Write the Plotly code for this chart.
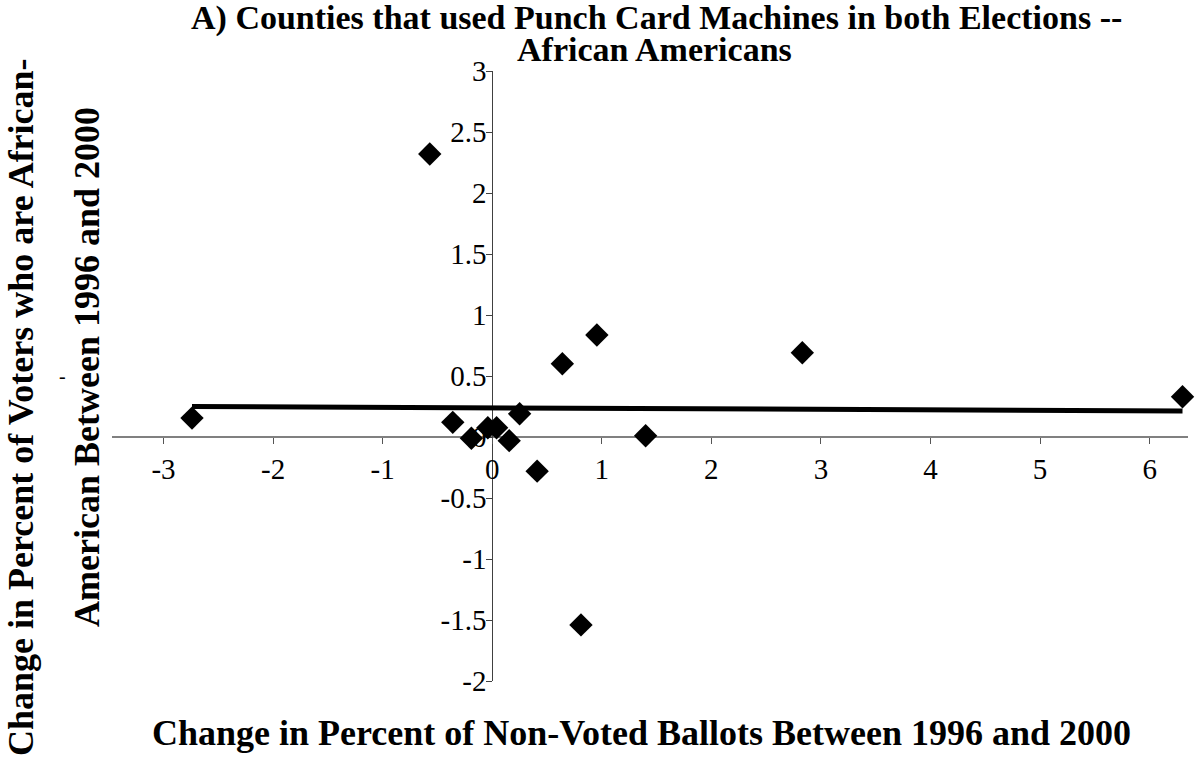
import numpy as np
import plotly.graph_objects as go

# Data
x_change_nonvoted = [-2.74, -0.57, 0.81, 0.64, 0.955, 2.83, 6.30,
                     -0.36, -0.19, -0.04, 0.04, 0.155, 0.25, 0.41, 1.40]
y_change_african_american = [0.155, 2.32, -1.54, 0.60, 0.836, 0.69, 0.33,
                             0.12, -0.01, 0.076, 0.076, -0.03, 0.19, -0.28, 0.01]

x_ticks = [-3, -2, -1, 0, 1, 2, 3, 4, 5, 6]
y_ticks = [-2, -1.5, -1, -0.5, 0, 0.5, 1, 1.5, 2, 2.5, 3]
x_range = [-3.47, 6.35]
y_range = [-2, 3]

title_line1 = "A) Counties that used Punch Card Machines in both Elections --"
title_line2 = "African Americans"
x_title = "Change in Percent of Non-Voted Ballots Between 1996 and 2000"
y_title_line1 = "Change in Percent of Voters who are African-"
y_title_line2 = "American Between 1996 and 2000"

# Linear trend line (least squares), like the spreadsheet trendline
xa = np.array(x_change_nonvoted)
ya = np.array(y_change_african_american)
slope, intercept = np.polyfit(xa, ya, 1)
trend_x = [xa.min(), xa.max()]
trend_y = [slope * v + intercept for v in trend_x]

FONT = "Liberation Serif, Times New Roman, serif"
W, H = 1200, 759
L, R, T, B = 112, 12, 71, 78
pw, ph = W - L - R, H - T - B


def px(xp):
    return (xp - L) / pw


def py(yp):
    return (H - B - yp) / ph


fig = go.Figure()
fig.add_trace(go.Scatter(
    x=trend_x, y=trend_y, mode="lines",
    line=dict(color="black", width=5),
    hoverinfo="skip", showlegend=False, cliponaxis=False))
fig.add_trace(go.Scatter(
    x=x_change_nonvoted, y=y_change_african_american, mode="markers",
    marker=dict(symbol="diamond", size=18, color="black",
                line=dict(color="black", width=0)),
    showlegend=False, cliponaxis=False))

x_zero_pos = (0 - x_range[0]) / (x_range[1] - x_range[0])
y_zero_pos = (0 - y_range[0]) / (y_range[1] - y_range[0])

TICK_SIZE = 29
fig.update_layout(
    width=W, height=H,
    margin=dict(l=L, r=R, t=T, b=B),
    paper_bgcolor="white", plot_bgcolor="white",
    font=dict(family=FONT, color="black"),
    xaxis=dict(range=x_range, tickmode="array", tickvals=x_ticks,
               ticktext=[str(v) for v in x_ticks],
               showgrid=False, zeroline=False,
               showline=True, linecolor="#808080", linewidth=2,
               ticks="outside", ticklen=6, tickcolor="#555555", tickwidth=1,
               tickfont=dict(family=FONT, size=TICK_SIZE, color="black"),
               anchor="free", position=y_zero_pos, layer="below traces",
               fixedrange=True),
    yaxis=dict(range=y_range, tickmode="array", tickvals=y_ticks,
               ticktext=[("%g" % v) for v in y_ticks],
               showgrid=False, zeroline=False,
               showline=True, linecolor="#404040", linewidth=1,
               ticks="outside", ticklen=6, tickcolor="#404040", tickwidth=1,
               ticklabelstandoff=-6,
               tickfont=dict(family=FONT, size=TICK_SIZE, color="black"),
               anchor="free", position=x_zero_pos, layer="below traces",
               fixedrange=True),
)

TS = 34
AS = 36
ann = [
    dict(text="<b>%s</b>" % title_line1, x=px(656), y=py(18), size=TS, angle=0),
    dict(text="<b>%s</b>" % title_line2, x=px(654), y=py(49), size=TS, angle=0),
    dict(text="<b>%s</b>" % x_title, x=px(641), y=py(733), size=AS, angle=0),
    dict(text="<b>%s</b>" % y_title_line1, x=px(21), y=py(407), size=AS, angle=-90),
    dict(text="<b>%s</b>" % y_title_line2, x=px(87), y=py(367), size=AS, angle=-90),
    dict(text="-", x=px(62), y=py(376), size=20, angle=0),
]
for a in ann:
    fig.add_annotation(text=a["text"], x=a["x"], y=a["y"], xref="paper", yref="paper",
                       xanchor="center", yanchor="middle", showarrow=False,
                       textangle=a["angle"],
                       font=dict(family=FONT, size=a["size"], color="black"))

fig.write_html("out.html", config={"displayModeBar": False},
               post_script="document.body.style.margin='0';")
